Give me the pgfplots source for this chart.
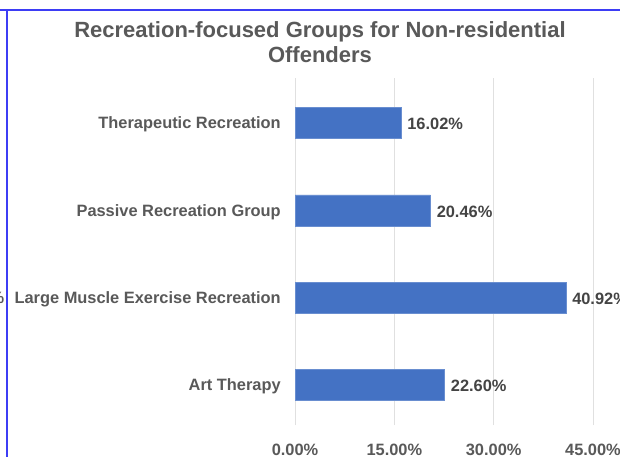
\documentclass[border=0pt]{standalone}
\usepackage{fontspec}
\setmainfont{Liberation Sans}
\usepackage{pgfplots}
\pgfplotsset{compat=1.18}
\definecolor{barblue}{HTML}{4472C4}
\definecolor{txtgray}{HTML}{595959}
\definecolor{valgray}{HTML}{444444}
\definecolor{gridgray}{HTML}{E0E0E0}
\definecolor{frameblue}{HTML}{3D3DF5}
\begin{document}
\begin{tikzpicture}
\useasboundingbox (0,0) rectangle (465pt,342.75pt);
\clip (0,0) rectangle (465pt,342.75pt);
\begin{scope}[x=0.75pt,y=0.75pt]
  \fill[white] (0,0) rectangle (620,457);
  \draw[frameblue, line width=1.1pt] (0,447) -- (620,447);
  \draw[frameblue, line width=1.1pt] (7,447) -- (7,0);
  \node[font=\bfseries\fontsize{16.5}{18.75}\selectfont, text=txtgray, align=center]
    at (320,414.5) {Recreation-focused Groups for Non-residential\\Offenders};
  \node[font=\bfseries\fontsize{12.3}{14}\selectfont, text=txtgray, anchor=east, inner sep=0pt]
    at (4.5,159) {\%};
\end{scope}
\begin{axis}[
  at={(221.25pt,24pt)}, anchor=south west,
  scale only axis, width=223.5pt, height=260.25pt,
  xbar, bar width=23.25pt,
  xmin=0, xmax=45, ymin=-0.458, ymax=3.515,
  axis line style={draw=none},
  major tick length=0pt,
  xtick={0,15,30,45},
  xticklabels={0.00\%,15.00\%,30.00\%,45.00\%},
  ytick={0,1,2,3},
  yticklabels={Art Therapy,Large Muscle Exercise Recreation,Passive Recreation Group,Therapeutic Recreation},
  xmajorgrids, grid style={gridgray, line width=0.75pt},
  ticklabel style={font=\bfseries\fontsize{12.3}{14}\selectfont, text=txtgray},
  yticklabel style={anchor=east, inner sep=0pt, xshift=-10.5pt, yshift=-1.2pt},
  xticklabel style={anchor=north, inner sep=0pt, yshift=-14pt},
  /pgf/number format/assume math mode=true,
  nodes near coords={\pgfmathprintnumber[fixed, fixed zerofill, precision=2]{\pgfplotspointmeta}\%},
  point meta=x,
  nodes near coords style={font=\bfseries\fontsize{12.3}{14}\selectfont, text=valgray, anchor=west, inner sep=0pt, xshift=4.5pt, yshift=-1pt},
  clip=false,
]
\addplot[fill=barblue, draw=barblue!80!white] coordinates {
  (22.60,0) (40.92,1) (20.46,2) (16.02,3)
};
\end{axis}
\end{tikzpicture}
\end{document}
